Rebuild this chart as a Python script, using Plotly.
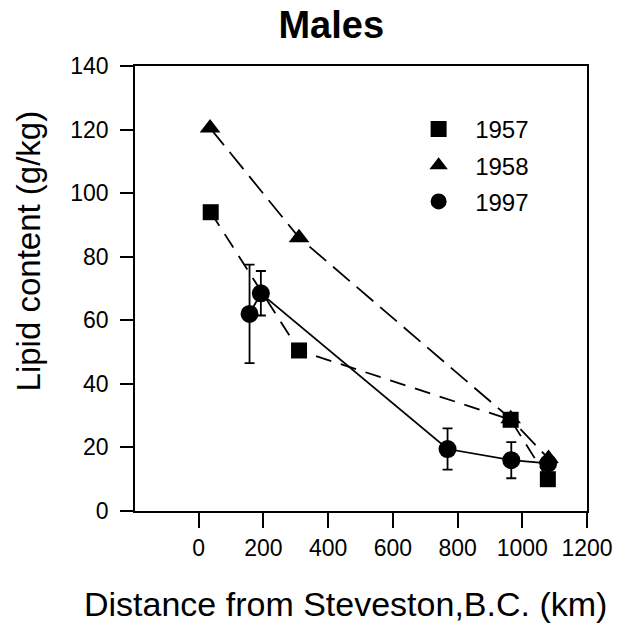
import plotly.graph_objects as go

# Data
x1957 = [37, 310, 964, 1079]
y1957 = [94, 50.5, 28.7, 10]

x1958 = [35, 310, 964, 1081]
y1958 = [120.5, 86, 29, 16.5]

x1997 = [157, 192, 769, 966, 1080]
y1997 = [62, 68.5, 19.5, 16, 15]
e1997 = [15.5, 7, 6.5, 5.7, 1.5]

years = ["1957", "1958", "1997"]
symbols = ["square", "triangle-up", "circle"]

FONT = "Liberation Sans, Arial"

fig = go.Figure()

fig.add_trace(go.Scatter(x=x1958, y=y1958, mode="lines+markers", showlegend=False,
                         line=dict(color="black", width=1.8, dash="22px,9px"),
                         marker=dict(symbol="triangle-up", size=18, color="black")))
fig.add_trace(go.Scatter(x=x1957, y=y1957, mode="lines+markers", showlegend=False,
                         line=dict(color="black", width=1.8, dash="16px,10px"),
                         marker=dict(symbol="square", size=16, color="black")))
fig.add_trace(go.Scatter(x=x1997, y=y1997, mode="lines+markers", showlegend=False,
                         line=dict(color="black", width=1.8),
                         error_y=dict(type="data", array=e1997, color="black", thickness=1.8, width=5),
                         marker=dict(symbol="circle", size=18, color="black")))

for yr, sym in zip(years, symbols):
    fig.add_trace(go.Scatter(x=[None], y=[None], mode="markers", name=yr, legendgroup=yr,
                             marker=dict(symbol=sym, size=16, color="black")))

axis_common = dict(showline=True, linecolor="black", linewidth=1.8, mirror=True,
                   showgrid=False, zeroline=False, ticks="outside", tickcolor="black",
                   tickwidth=1.8,
                   tickfont=dict(family=FONT, size=23, color="black"))

fig.update_layout(
    width=625, height=629,
    paper_bgcolor="white", plot_bgcolor="white",
    margin=dict(l=135, r=35, t=66, b=118),
    title=dict(text="<b>Males</b>", x=0.53, xanchor="center", y=0.96, yanchor="middle",
               font=dict(family=FONT, size=38, color="black")),
    xaxis=dict(range=[-197, 1200], tickvals=[0, 200, 400, 600, 800, 1000, 1200], ticklen=15,
               **axis_common),
    yaxis=dict(range=[0, 140], tickvals=[0, 20, 40, 60, 80, 100, 120, 140], ticklen=13,
               ticklabelstandoff=7, **axis_common),
    legend=dict(x=0.591, y=0.908, xanchor="left", yanchor="top", bgcolor="rgba(0,0,0,0)",
                font=dict(family=FONT, size=24, color="black"),
                tracegroupgap=2, itemwidth=63),
    annotations=[
        dict(text="Lipid content (g/kg)", xref="paper", yref="paper",
             x=-0.235, y=0.585, xanchor="center", yanchor="middle", textangle=-90,
             showarrow=False, font=dict(family=FONT, size=33, color="black")),
        dict(text="Distance from Steveston,B.C. (km)", xref="paper", yref="paper",
             x=0.466, y=-0.2095, xanchor="center", yanchor="middle",
             showarrow=False, font=dict(family=FONT, size=34, color="black")),
    ],
)

fig.write_html("out.html")
